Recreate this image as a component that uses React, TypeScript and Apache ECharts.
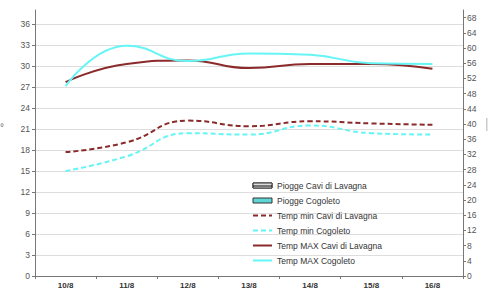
import React, { useEffect, useRef } from "react";
import * as echarts from "echarts";

const categories = ["10/8", "11/8", "12/8", "13/8", "14/8", "15/8", "16/8"];
const rainCavi = [0, 0, 0, 0, 0, 0, 0];
const rainCogoleto = [0, 0, 0, 0, 0, 0, 0];
const minCavi = [17.7, 19.1, 22.2, 21.4, 22.1, 21.8, 21.6];
const minCogoleto = [15.0, 17.1, 20.4, 20.2, 21.5, 20.4, 20.2];
const maxCavi = [27.7, 30.3, 30.8, 29.7, 30.3, 30.3, 29.6];
const maxCogoleto = [27.1, 32.9, 30.7, 31.8, 31.6, 30.4, 30.3];

const RED = "#8B2A2A";
const CYAN = "#66F5F5";
const FONT = "Liberation Sans, Arial, sans-serif";

export default function App() {
  const ref = useRef<HTMLDivElement>(null);
  useEffect(() => {
    if (!ref.current) return;
    const chart = echarts.init(ref.current, null, { renderer: "svg" });
    const lineSeries = (name: string, data: number[], color: string, dashed: boolean) => ({
      name,
      type: "line",
      yAxisIndex: 0,
      data,
      smooth: 0.5,
      symbol: "none",
      lineStyle: { color, width: 2, type: dashed ? [5, 3] : "solid" },
      itemStyle: { color },
    });
    const lineLegend = (name: string) => ({ name, itemStyle: { opacity: 0 } });
    chart.setOption({
      animation: false,
      textStyle: { fontFamily: FONT },
      grid: { left: 35, right: 29, top: 10, bottom: 15 },
      legend: {
        orient: "vertical",
        left: 252,
        top: 181,
        padding: 0,
        itemWidth: 19,
        itemHeight: 5,
        itemGap: 6,
        textStyle: { fontSize: 8.5, color: "#333", fontFamily: FONT },
        data: [
          { name: "Piogge Cavi di Lavagna", icon: "rect", itemStyle: { color: "#777", borderColor: "#333", borderWidth: 1, decal: { symbol: "rect", dashArrayX: [1, 0], dashArrayY: [2, 2], color: "#ddd", symbolSize: 1 } } },
          { name: "Piogge Cogoleto", icon: "rect", itemStyle: { color: "#5ED6D6", borderColor: "#333", borderWidth: 1 } },
          lineLegend("Temp min Cavi di Lavagna"),
          lineLegend("Temp min Cogoleto"),
          lineLegend("Temp MAX Cavi di Lavagna"),
          lineLegend("Temp MAX Cogoleto"),
        ],
      },
      xAxis: {
        type: "category",
        data: categories,
        boundaryGap: true,
        axisLine: { lineStyle: { color: "#777", width: 1 } },
        axisTick: { show: true, length: 3, lineStyle: { color: "#777" } },
        axisLabel: { fontSize: 8, fontWeight: "bold", color: "#333", margin: 5, fontFamily: FONT },
      },
      yAxis: [
        {
          type: "value",
          min: 0,
          max: 38,
          interval: 3,
          axisLine: { show: true, lineStyle: { color: "#777" } },
          axisTick: { show: true, length: 3, lineStyle: { color: "#777" } },
          axisLabel: { fontSize: 8.5, color: "#555", margin: 5, showMaxLabel: false, fontFamily: FONT },
          splitLine: { show: true, showMaxLine: false, showMinLine: false, lineStyle: { color: "#ddd", width: 1 } },
        },
        {
          type: "value",
          min: 0,
          max: 70,
          interval: 4,
          position: "right",
          axisLine: { show: true, lineStyle: { color: "#777" } },
          axisTick: { show: true, length: 3, inside: false, lineStyle: { color: "#777" } },
          axisLabel: { fontSize: 8.5, color: "#555", margin: 4, showMaxLabel: false, fontFamily: FONT },
          splitLine: { show: false },
        },
      ],
      graphic: [
        { type: "text", left: 0, top: 122, style: { text: "°", fontSize: 10, fill: "#666", fontFamily: FONT } },
        { type: "rect", shape: { x: 486, y: 118, width: 1.5, height: 13 }, style: { fill: "#ccc" } },
      ],
      series: [
        { name: "Piogge Cavi di Lavagna", type: "bar", yAxisIndex: 1, data: rainCavi, itemStyle: { color: "#777" } },
        { name: "Piogge Cogoleto", type: "bar", yAxisIndex: 1, data: rainCogoleto, itemStyle: { color: "#5ED6D6" } },
        lineSeries("Temp min Cavi di Lavagna", minCavi, RED, true),
        lineSeries("Temp min Cogoleto", minCogoleto, CYAN, true),
        lineSeries("Temp MAX Cavi di Lavagna", maxCavi, RED, false),
        lineSeries("Temp MAX Cogoleto", maxCogoleto, CYAN, false),
      ],
    });
    return () => chart.dispose();
  }, []);
  return <div ref={ref} style={{ width: 492, height: 291, position: "absolute", left: 0, top: 0 }} />;
}
